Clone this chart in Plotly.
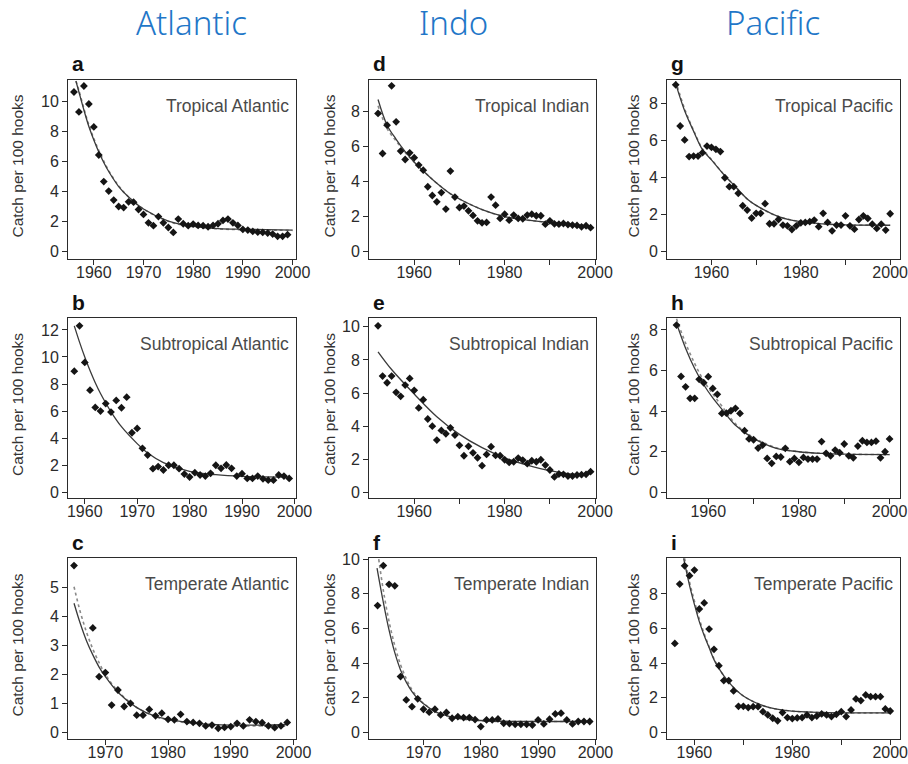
import plotly.graph_objects as go

W, H = 908, 764

# ---------------- data ----------------
a_years = [1956, 1957, 1958, 1959, 1960, 1961, 1962, 1963, 1964, 1965, 1966, 1967, 1968, 1969, 1970,
           1971, 1972, 1973, 1974, 1975, 1976, 1977, 1978, 1979, 1980, 1981, 1982, 1983, 1984, 1985,
           1986, 1987, 1988, 1989, 1990, 1991, 1992, 1993, 1994, 1995, 1996, 1997, 1998, 1999]
a_vals = [10.6, 9.27, 11.0, 9.8, 8.27, 6.4, 4.63, 4.0, 3.4, 2.97, 2.9, 3.28, 3.26, 2.77, 2.44,
          1.88, 1.69, 2.3, 1.88, 1.57, 1.24, 2.13, 1.82, 1.69, 1.8, 1.71, 1.69, 1.62, 1.71, 1.82,
          2.04, 2.13, 1.88, 1.71, 1.44, 1.4, 1.31, 1.26, 1.24, 1.2, 1.13, 0.98, 0.98, 1.09]
a_fit_x = [1956.4, 1957, 1958, 1959, 1960, 1961, 1962, 1963, 1965, 1967, 1970, 1975, 1980, 1985, 1990, 2000]
a_fit_y = [11.33, 10.6, 9.4, 8.3, 7.4, 6.6, 5.9, 5.3, 4.3, 3.6, 2.8, 2.0, 1.65, 1.5, 1.45, 1.4]
a_dot_y = [11.33, 10.7, 9.5, 8.4, 7.5, 6.7, 6.0, 5.35, 4.35, 3.6, 2.8, 1.98, 1.62, 1.48, 1.42, 1.38]

b_years = [1958, 1959, 1960, 1961, 1962, 1963, 1964, 1965, 1966, 1967, 1968, 1969, 1970, 1971,
           1972, 1973, 1974, 1975, 1976, 1977, 1978, 1979, 1980, 1981, 1982, 1983, 1984, 1985,
           1986, 1987, 1988, 1989, 1990, 1991, 1992, 1993, 1994, 1995, 1996, 1997, 1998, 1999]
b_vals = [8.95, 12.3, 9.6, 7.55, 6.27, 6.0, 6.56, 5.93, 6.79, 6.25, 7.03, 4.4, 4.72, 3.25,
          2.75, 1.75, 1.9, 1.65, 2.0, 2.0, 1.75, 1.35, 1.13, 1.45, 1.28, 1.2, 1.4, 2.0,
          1.77, 2.02, 1.77, 1.2, 1.38, 1.03, 1.03, 1.2, 1.0, 0.9, 0.9, 1.28, 1.2, 1.03]
b_fit_x = [1958, 1959, 1960, 1961, 1962, 1963, 1964, 1965, 1967, 1970, 1972, 1975, 1980, 1985, 1990, 1999]
b_fit_y = [12.3, 11.1, 10.0, 9.0, 8.1, 7.3, 6.6, 5.95, 4.85, 3.6, 2.9, 2.2, 1.55, 1.3, 1.18, 1.12]

c_years = [1965, 1968, 1969, 1970, 1971, 1972, 1973, 1974, 1975, 1976, 1977, 1978, 1979, 1980,
           1981, 1982, 1983, 1984, 1985, 1986, 1987, 1988, 1989, 1990, 1991, 1992, 1993, 1994,
           1995, 1996, 1997, 1998, 1999]
c_vals = [5.75, 3.6, 1.92, 2.06, 0.94, 1.46, 0.89, 1.0, 0.59, 0.59, 0.79, 0.57, 0.66, 0.45,
          0.43, 0.62, 0.37, 0.34, 0.31, 0.22, 0.25, 0.14, 0.17, 0.2, 0.31, 0.22, 0.43, 0.37,
          0.33, 0.22, 0.16, 0.22, 0.34]
c_fit_x = [1965, 1966, 1967, 1968, 1969, 1970, 1972, 1975, 1978, 1980, 1985, 1990, 1995, 1999]
c_fit_y = [4.45, 3.75, 3.15, 2.67, 2.25, 1.92, 1.38, 0.85, 0.55, 0.45, 0.3, 0.25, 0.25, 0.27]
c_dot_y = [5.02, 4.15, 3.45, 2.87, 2.4, 2.0, 1.42, 0.86, 0.54, 0.43, 0.28, 0.23, 0.22, 0.22]

d_years = [1952, 1953, 1954, 1955, 1956, 1957, 1958, 1959, 1960, 1961, 1962, 1963, 1964, 1965,
           1966, 1967, 1968, 1969, 1970, 1971, 1972, 1973, 1974, 1975, 1976, 1977, 1978, 1979,
           1980, 1981, 1982, 1983, 1984, 1985, 1986, 1987, 1988, 1989, 1990, 1991, 1992, 1993,
           1994, 1995, 1996, 1997, 1998, 1999]
d_vals = [7.87, 5.59, 7.2, 9.44, 7.39, 5.73, 5.25, 5.63, 5.35, 4.93, 4.64, 3.7, 3.2, 2.84,
          3.37, 2.43, 4.59, 3.11, 2.52, 2.6, 2.33, 2.07, 1.76, 1.65, 1.67, 3.11, 2.65, 1.9,
          2.14, 1.8, 2.09, 1.9, 1.88, 2.09, 2.14, 2.05, 2.05, 1.57, 1.76, 1.59, 1.57, 1.61,
          1.55, 1.52, 1.5, 1.42, 1.48, 1.37]
d_fit_x = [1952, 1954, 1956, 1958, 1960, 1962, 1965, 1968, 1970, 1975, 1980, 1985, 1990, 1995, 1999]
d_fit_y = [8.66, 7.2, 6.4, 5.7, 5.1, 4.6, 3.9, 3.3, 3.0, 2.4, 2.0, 1.8, 1.67, 1.55, 1.45]
d_dot_y = [8.3, 7.0, 6.3, 5.65, 5.1, 4.6, 3.9, 3.3, 3.0, 2.4, 2.0, 1.8, 1.67, 1.55, 1.45]

e_years = d_years
e_vals = [10.06, 7.02, 6.62, 7.02, 6.04, 5.8, 6.48, 6.88, 6.16, 5.1, 5.6, 4.43, 4.0, 3.16,
          3.74, 3.54, 3.9, 3.46, 2.84, 2.21, 2.78, 2.39, 2.09, 1.61, 2.29, 2.76, 2.23, 2.21,
          1.97, 1.81, 1.85, 2.07, 1.95, 1.73, 1.91, 1.85, 1.97, 1.65, 1.35, 0.93, 1.11, 1.09,
          0.99, 0.99, 1.05, 1.07, 1.09, 1.25]
e_fit_x = [1952, 1955, 1960, 1965, 1970, 1975, 1980, 1985, 1990, 1995, 1997, 1999]
e_fit_y = [8.49, 7.42, 5.94, 4.57, 3.5, 2.7, 2.09, 1.65, 1.31, 1.1, 1.1, 1.15]

f_years = [1962, 1963, 1964, 1965, 1966, 1967, 1968, 1969, 1970, 1971, 1972, 1973, 1974, 1975,
           1976, 1977, 1978, 1979, 1980, 1981, 1982, 1983, 1984, 1985, 1986, 1987, 1988, 1989,
           1990, 1991, 1992, 1993, 1994, 1995, 1996, 1997, 1998, 1999]
f_vals = [7.32, 9.63, 8.55, 8.46, 3.22, 1.87, 1.48, 1.93, 1.33, 1.16, 1.33, 1.0, 1.14, 0.81,
          0.9, 0.85, 0.85, 0.73, 0.33, 0.71, 0.71, 0.77, 0.52, 0.5, 0.46, 0.46, 0.46, 0.42,
          0.71, 0.48, 0.75, 1.06, 1.1, 0.71, 0.48, 0.62, 0.62, 0.62]
f_fit_x = [1961.9, 1963, 1964, 1965, 1966, 1967, 1968, 1969, 1970, 1972, 1975, 1980, 1985, 1990, 1999]
f_fit_y = [9.48, 7.5, 5.9, 4.6, 3.6, 2.9, 2.35, 1.95, 1.65, 1.2, 0.88, 0.68, 0.63, 0.62, 0.62]
f_dot_x = [1962.2, 1963, 1964, 1965, 1966, 1967, 1968, 1969, 1970, 1972, 1975, 1980, 1985, 1990, 1999]
f_dot_y = [10.0, 8.2, 6.4, 5.0, 3.9, 3.1, 2.45, 2.0, 1.68, 1.2, 0.86, 0.66, 0.62, 0.62, 0.62]

g_years = [1952, 1953, 1954, 1955, 1956, 1957, 1958, 1959, 1960, 1961, 1962, 1963, 1964, 1965,
           1966, 1967, 1968, 1969, 1970, 1971, 1972, 1973, 1974, 1975, 1976, 1977, 1978, 1979,
           1980, 1981, 1982, 1983, 1984, 1985, 1986, 1987, 1988, 1989, 1990, 1991, 1992, 1993,
           1994, 1995, 1996, 1997, 1998, 1999, 2000]
g_vals = [9.0, 6.78, 6.03, 5.13, 5.16, 5.16, 5.34, 5.7, 5.63, 5.52, 5.4, 3.99, 3.51, 3.51,
          3.15, 2.48, 2.25, 1.82, 2.07, 2.07, 2.59, 1.51, 1.51, 1.74, 1.44, 1.4, 1.2, 1.4,
          1.56, 1.58, 1.62, 1.71, 1.35, 2.07, 1.58, 1.13, 1.44, 1.44, 1.94, 1.4, 1.22, 1.74,
          1.94, 1.8, 1.49, 1.26, 1.49, 1.17, 2.05]
g_fit_x = [1952.2, 1954, 1956, 1958, 1960, 1963, 1965, 1968, 1970, 1975, 1980, 1985, 1990, 2000]
g_fit_y = [8.9, 7.6, 6.5, 5.5, 4.95, 4.1, 3.6, 2.85, 2.5, 1.9, 1.62, 1.5, 1.45, 1.43]
g_dot_x = [1952.0, 1954, 1956, 1958, 1960, 1963, 1965, 1968, 1970, 1975, 1980, 1985, 1990, 2000]
g_dot_y = [9.2, 7.7, 6.55, 5.55, 4.98, 4.1, 3.6, 2.85, 2.5, 1.9, 1.62, 1.5, 1.45, 1.43]

h_years = [1953, 1954, 1955, 1956, 1957, 1958, 1959, 1960, 1961, 1962, 1963, 1964, 1965, 1966,
           1967, 1968, 1969, 1970, 1971, 1972, 1973, 1974, 1975, 1976, 1977, 1978, 1979, 1980,
           1981, 1982, 1983, 1984, 1985, 1986, 1987, 1988, 1989, 1990, 1991, 1992, 1993, 1994,
           1995, 1996, 1997, 1998, 1999, 2000]
h_vals = [8.24, 5.71, 5.2, 4.63, 4.63, 5.57, 5.4, 5.7, 5.12, 4.83, 3.89, 3.9, 4.02, 4.14,
          3.89, 3.04, 2.63, 2.59, 2.18, 2.33, 1.67, 1.43, 1.77, 1.74, 2.17, 1.51, 1.67, 1.48,
          1.72, 1.64, 1.64, 1.64, 2.5, 1.92, 1.8, 2.08, 1.95, 2.38, 1.8, 1.7, 2.28, 2.54,
          2.46, 2.46, 2.52, 1.7, 2.0, 2.63]
h_fit_x = [1953, 1955, 1957, 1959, 1961, 1963, 1966, 1970, 1975, 1980, 1985, 1990, 2000]
h_fit_y = [8.33, 7.1, 6.1, 5.3, 4.65, 4.1, 3.3, 2.66, 2.17, 2.0, 1.92, 1.88, 1.86]
h_dot_y = [8.55, 7.35, 6.35, 5.5, 4.85, 4.25, 3.38, 2.7, 2.2, 2.0, 1.92, 1.88, 1.86]

i_years = [1956, 1957, 1958, 1959, 1960, 1961, 1962, 1963, 1964, 1965, 1966, 1967, 1968, 1969,
           1970, 1971, 1972, 1973, 1974, 1975, 1976, 1977, 1978, 1979, 1980, 1981, 1982, 1983,
           1984, 1985, 1986, 1987, 1988, 1989, 1990, 1991, 1992, 1993, 1994, 1995, 1996, 1997,
           1998, 1999, 2000]
i_vals = [5.14, 8.57, 9.63, 9.06, 9.38, 7.13, 7.48, 5.97, 4.8, 3.85, 2.99, 2.99, 2.39, 1.5,
          1.5, 1.43, 1.48, 1.48, 1.19, 1.0, 0.81, 0.66, 1.14, 0.85, 0.79, 0.83, 0.85, 1.0,
          0.85, 0.94, 1.06, 1.0, 0.91, 1.04, 1.19, 0.91, 1.29, 1.93, 1.83, 2.16, 2.06, 2.06,
          2.06, 1.35, 1.23]
i_fit_x = [1957.8, 1959, 1960, 1961, 1962, 1963, 1964, 1965, 1967, 1970, 1975, 1980, 1985, 1990, 2000]
i_fit_y = [10.06, 8.5, 7.4, 6.4, 5.6, 4.9, 4.2, 3.7, 2.9, 2.1, 1.45, 1.22, 1.15, 1.12, 1.12]
i_dot_x = [1958.0, 1959, 1960, 1961, 1962, 1963, 1964, 1965, 1967, 1970, 1975, 1980, 1985, 1990, 2000]
i_dot_y = [10.06, 8.7, 7.6, 6.55, 5.7, 4.95, 4.25, 3.7, 2.9, 2.1, 1.45, 1.22, 1.15, 1.12, 1.12]

column_titles = ["Atlantic", "Indo", "Pacific"]
region_names = {
    "a": "Tropical Atlantic", "b": "Subtropical Atlantic", "c": "Temperate Atlantic",
    "d": "Tropical Indian", "e": "Subtropical Indian", "f": "Temperate Indian",
    "g": "Tropical Pacific", "h": "Subtropical Pacific", "i": "Temperate Pacific",
}
y_title = "Catch per 100 hooks"

# ---------------- layout geometry (pixels) ----------------
cols = [(68, 296), (369, 596), (667, 900)]
rows = [(80, 259), (318, 498), (558, 739)]

all_dec = [1960, 1970, 1980, 1990, 2000]
alt_txt = ["1960", "", "1980", "", "2000"]
full_txt = ["1960", "1970", "1980", "1990", "2000"]
late_dec = [1970, 1980, 1990, 2000]
late_txt = ["1970", "1980", "1990", "2000"]

panels = [
    dict(k="a", c=0, r=0, x=a_years, y=a_vals, fx=a_fit_x, fy=a_fit_y, dx=a_fit_x, dy=a_dot_y,
         xr=[1954.8, 2000.7], yr=[-0.53, 11.4], yt=[0, 2, 4, 6, 8, 10], xt=all_dec, xtt=full_txt),
    dict(k="b", c=0, r=1, x=b_years, y=b_vals, fx=b_fit_x, fy=b_fit_y, dx=None, dy=None,
         xr=[1956.8, 2000.3], yr=[-0.42, 12.88], yt=[0, 2, 4, 6, 8, 10, 12], xt=all_dec, xtt=full_txt),
    dict(k="c", c=0, r=2, x=c_years, y=c_vals, fx=c_fit_x, fy=c_fit_y, dx=c_fit_x, dy=c_dot_y,
         xr=[1964.04, 2000.4], yr=[-0.23, 6.01], yt=[0, 1, 2, 3, 4, 5], xt=late_dec, xtt=late_txt),
    dict(k="d", c=1, r=0, x=d_years, y=d_vals, fx=d_fit_x, fy=d_fit_y, dx=d_fit_x, dy=d_dot_y,
         xr=[1950.0, 2000.2], yr=[-0.41, 9.77], yt=[0, 2, 4, 6, 8], xt=all_dec, xtt=alt_txt),
    dict(k="e", c=1, r=1, x=e_years, y=e_vals, fx=e_fit_x, fy=e_fit_y, dx=None, dy=None,
         xr=[1950.0, 2000.2], yr=[-0.34, 10.53], yt=[0, 2, 4, 6, 8, 10], xt=all_dec, xtt=alt_txt),
    dict(k="f", c=1, r=2, x=f_years, y=f_vals, fx=f_fit_x, fy=f_fit_y, dx=f_dot_x, dy=f_dot_y,
         xr=[1960.5, 2000.1], yr=[-0.39, 10.07], yt=[0, 2, 4, 6, 8, 10], xt=late_dec, xtt=late_txt),
    dict(k="g", c=2, r=0, x=g_years, y=g_vals, fx=g_fit_x, fy=g_fit_y, dx=g_dot_x, dy=g_dot_y,
         xr=[1950.05, 2002.2], yr=[-0.39, 9.26], yt=[0, 2, 4, 6, 8], xt=all_dec, xtt=alt_txt),
    dict(k="h", c=2, r=1, x=h_years, y=h_vals, fx=h_fit_x, fy=h_fit_y, dx=h_fit_x, dy=h_dot_y,
         xr=[1950.9, 2002.3], yr=[-0.28, 8.59], yt=[0, 2, 4, 6, 8], xt=all_dec, xtt=alt_txt),
    dict(k="i", c=2, r=2, x=i_years, y=i_vals, fx=i_fit_x, fy=i_fit_y, dx=i_dot_x, dy=i_dot_y,
         xr=[1954.4, 2002.0], yr=[-0.39, 10.08], yt=[0, 2, 4, 6, 8], xt=all_dec, xtt=alt_txt),
]

FONT = "Liberation Sans, Arial, Helvetica, sans-serif"
INK = "#2b2b2b"

fig = go.Figure()
layout = {}
annotations = []

for n, p in enumerate(panels, start=1):
    xa = "x" if n == 1 else f"x{n}"
    ya = "y" if n == 1 else f"y{n}"
    l, rgt = cols[p["c"]]
    t, b = rows[p["r"]]
    if p["dx"] is not None:
        fig.add_trace(go.Scatter(x=p["dx"], y=p["dy"], xaxis=xa, yaxis=ya, mode="lines",
                                 line=dict(shape="spline", dash="dot", color="#8a8a8a", width=1.6),
                                 hoverinfo="skip", showlegend=False))
    fig.add_trace(go.Scatter(x=p["fx"], y=p["fy"], xaxis=xa, yaxis=ya, mode="lines",
                             line=dict(shape="spline", color="#3a3a3a", width=1.3),
                             hoverinfo="skip", showlegend=False))
    fig.add_trace(go.Scatter(x=p["x"], y=p["y"], xaxis=xa, yaxis=ya, mode="markers",
                             marker=dict(symbol="diamond", size=6, color="#151515"),
                             cliponaxis=False, showlegend=False))
    common = dict(showline=True, linecolor=INK, linewidth=1, mirror=True, ticks="outside",
                  ticklen=5, tickwidth=1, tickcolor=INK, showgrid=False, zeroline=False,
                  automargin=False, ticklabeloverflow="allow",
                  tickfont=dict(family=FONT, size=16, color=INK), fixedrange=True)
    layout["xaxis" if n == 1 else f"xaxis{n}"] = dict(
        domain=[l / W, rgt / W], range=p["xr"], anchor=ya, ticklabelstandoff=-6,
        tickmode="array", tickvals=p["xt"], ticktext=p["xtt"], **common)
    layout["yaxis" if n == 1 else f"yaxis{n}"] = dict(
        domain=[1 - b / H, 1 - t / H], range=p["yr"], anchor=xa,
        tickmode="array", tickvals=p["yt"], ticktext=[str(v) for v in p["yt"]], **common)
    # panel letter
    annotations.append(dict(text=f"<b>{p['k']}</b>", x=(l + 2) / W, y=1 - (t - 16) / H,
                            xref="paper", yref="paper", xanchor="left", yanchor="middle",
                            showarrow=False, font=dict(family=FONT, size=21, color="#111")))
    # region name
    annotations.append(dict(text=region_names[p["k"]], x=(rgt - 5) / W, y=1 - (t + 26) / H,
                            xref="paper", yref="paper", xanchor="right", yanchor="middle",
                            showarrow=False, font=dict(family=FONT, size=17.5, color="#4a4a4a")))

# y-axis titles
ytitle_x = [17, 329, 633]
for ci, xx in enumerate(ytitle_x):
    for (t, b) in rows:
        annotations.append(dict(text=y_title, x=xx / W, y=1 - ((t + b) / 2 - 3) / H,
                                xref="paper", yref="paper", xanchor="center", yanchor="middle",
                                textangle=-90, showarrow=False,
                                font=dict(family=FONT, size=15.5, color="#333")))

# column titles
title_x = [191, 453, 773]
for txt, xx in zip(column_titles, title_x):
    annotations.append(dict(text=txt, x=xx / W, y=1 - 23 / H, xref="paper", yref="paper",
                            xanchor="center", yanchor="middle", showarrow=False,
                            font=dict(family="Noto Sans, sans-serif", size=33, weight=300,
                                      color="#1f77c8")))

fig.update_layout(width=W, height=H, margin=dict(l=0, r=0, t=0, b=0, autoexpand=False),
                  paper_bgcolor="white", plot_bgcolor="white", showlegend=False,
                  hovermode=False, annotations=annotations, **layout)

fig.write_html("out.html", config={"displayModeBar": False, "responsive": False},
               post_script="document.body.style.margin='0';document.body.style.padding='0';"
                           "document.body.style.overflow='hidden';")
